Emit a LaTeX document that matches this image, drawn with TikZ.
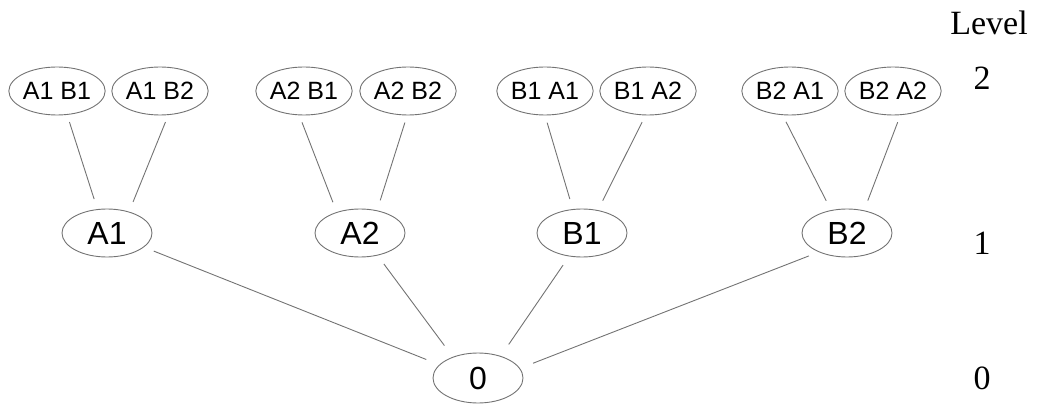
\documentclass[tikz,border=0pt]{standalone}
\usepackage{fontspec}
\setmainfont{Liberation Serif}
\setsansfont{Liberation Sans}
\usetikzlibrary{shapes.geometric}

\begin{document}
\begin{tikzpicture}[x=1pt,y=-1pt,
  pair/.style={ellipse,draw=black!55,line width=0.9pt,inner sep=0pt,
    minimum width=90pt,minimum height=48pt,font=\sffamily\fontsize{25}{30}\selectfont},
  single/.style={pair,font=\sffamily\fontsize{32}{38}\selectfont},
  root/.style={single,minimum height=50pt},
  lvl/.style={font=\fontsize{34}{40}\selectfont,inner sep=0pt},
  uplink/.style={draw=black!55,line width=0.9pt,shorten <=7.5pt,shorten >=10.5pt},
  lowlink/.style={draw=black!55,line width=0.9pt,shorten <=10.5pt,shorten >=14pt}]
  \useasboundingbox (0,0) rectangle (1038,406);

  % level 2
  \node[pair] (a1b1) at (57,91) {A1 B1};
  \node[pair] (a1b2) at (160,91) {A1 B2};
  \node[pair] (a2b1) at (304,91) {A2 B1};
  \node[pair] (a2b2) at (408,91) {A2 B2};
  \node[pair] (b1a1) at (545,91) {B1 A1};
  \node[pair] (b1a2) at (648,91) {B1 A2};
  \node[pair] (b2a1) at (790,91) {B2 A1};
  \node[pair] (b2a2) at (893,91) {B2 A2};

  % level 1
  \node[single] (a1) at (107,233) {A1};
  \node[single] (a2) at (360,233) {A2};
  \node[single] (b1) at (582,233) {B1};
  \node[single] (b2) at (847,233) {B2};

  % level 0
  \node[root] (zero) at (478,378) {0};

  % level numbers
  \node[lvl] (level) at (989,23) {Level};
  \node[lvl] (lvtwo) at (982,78) {2};
  \node[lvl] (lvone) at (982,243) {1};
  \node[lvl] (lvzero) at (982,378) {0};

  % edges
  \draw[uplink] (a1b1.-67) -- (a1.112);
  \draw[uplink] (a1b2.-71) -- (a1.44);
  \draw[uplink] (a2b1.-101) -- (a2.138);
  \draw[uplink] (a2b2.-92) -- (a2.53);
  \draw[uplink] (b1a1.-90) -- (b1.111);
  \draw[uplink] (b1a2.-96) -- (b1.55);
  \draw[uplink] (b2a1.-107) -- (b2.125);
  \draw[uplink] (b2a2.-73) -- (b2.53);
  \draw[lowlink] (a1.-21) -- (zero.161);
  \draw[lowlink] (a2.-52) -- (zero.140);
  \draw[lowlink] (b1.-119) -- (zero.44);
  \draw[lowlink] (b2.-146) -- (zero.13);
\end{tikzpicture}
\end{document}
